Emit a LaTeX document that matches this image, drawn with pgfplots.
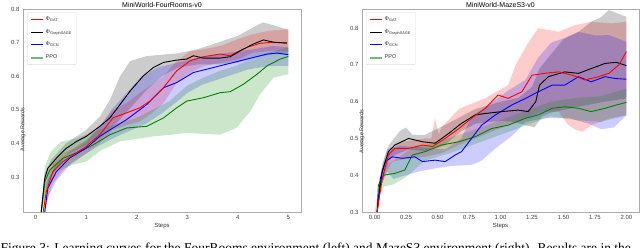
\documentclass[border=0pt]{standalone}
\usepackage{pgfplots}
\pgfplotsset{compat=1.18}
\usepackage{fontspec}
\setmainfont{Liberation Sans}
\newfontfamily\capfont{Liberation Serif}
\definecolor{mred}{RGB}{255,0,0}
\definecolor{mblue}{RGB}{0,0,255}
\definecolor{mgreen}{RGB}{0,128,0}
\pgfplotsset{
  band/.style={draw=none, fill=#1, fill opacity=0.2, forget plot},
  line/.style={color=#1, line width=0.9pt},
  every axis title/.style={at={(0.5,1)}, anchor=base, inner sep=0pt, yshift=2pt, font=\fontsize{7}{8}\selectfont},
  myax/.style={
    scale only axis,
    axis line style={gray!65, line width=0.6pt},
    major tick length=0pt,
    tick label style={font=\fontsize{6}{7}\selectfont, text=black!75},
    every axis y label/.style={at={(axis description cs:0,0.5)}, rotate=90, anchor=center, font=\fontsize{5.5}{6}\selectfont, text=black!80},
    every axis x label/.style={at={(axis description cs:0.5,0)}, anchor=north, yshift=-8pt, font=\fontsize{6}{7}\selectfont, text=black!80},
    legend style={font=\fontsize{5.5}{6.5}\selectfont, draw=gray!30, rounded corners=1pt, fill=white,
      at={(0,1)}, anchor=north west, xshift=4pt, yshift=-3pt, row sep=3.4pt, inner sep=2.5pt, text=black!80},
    legend cell align=left,
    legend image code/.code={\draw[##1] (0pt,0pt) -- (12pt,0pt);},
  }
}
\begin{document}
\begin{tikzpicture}[x=1pt,y=1pt]
\useasboundingbox (0,0) rectangle (640,247);
\clip (0,0) rectangle (640,247);
% ---------------- left ----------------
\begin{axis}[myax, at={(23pt,35pt)}, anchor=south west, width=278pt, height=203pt,
  xmin=-0.25, xmax=5.25, ymin=0.196, ymax=0.8,
  xtick={0,1,2,3,4,5}, xticklabels={0,1,2,3,4,5},
  ytick={0.3,0.4,0.5,0.6,0.7,0.8}, yticklabels={0.3,0.4,0.5,0.6,0.7,0.8},
  title={MiniWorld-FourRooms-v0}, xlabel={Steps}, ylabel={Average Rewards},
  every axis y label/.append style={xshift=-19pt}]
\addlegendimage{mred, line width=0.9pt}
\addlegendentry{Φ\textsubscript{GAT}}
\addlegendimage{black, line width=0.9pt}
\addlegendentry{Φ\textsubscript{GraphSAGE}}
\addlegendimage{mblue, line width=0.9pt}
\addlegendentry{Φ\textsubscript{GCN}}
\addlegendimage{mgreen!55!white, line width=2pt}
\addlegendentry{PPO}
% bands
\addplot[band=black] coordinates {(0.11,0.2)(0.18,0.31)(0.3,0.35)(0.6,0.40)(1.0,0.44)(1.27,0.48)(1.47,0.53)(1.67,0.60)(1.87,0.645)(2.2,0.66)(2.8,0.668)(3.2,0.68)(3.6,0.70)(4.0,0.72)(4.3,0.745)(4.5,0.76)(4.7,0.752)(5.0,0.738)
 (5.0,0.665)(4.7,0.665)(4.3,0.655)(4.0,0.64)(3.6,0.635)(3.2,0.635)(2.8,0.625)(2.5,0.60)(2.2,0.56)(1.9,0.51)(1.6,0.46)(1.3,0.42)(1.0,0.395)(0.6,0.365)(0.3,0.30)(0.18,0.25)(0.12,0.196)};
\addplot[band=mred] coordinates {(0.15,0.21)(0.21,0.28)(0.34,0.34)(0.54,0.37)(0.74,0.385)(1.0,0.41)(1.27,0.45)(1.53,0.50)(1.8,0.52)(2.06,0.55)(2.3,0.575)(2.53,0.60)(2.79,0.645)(3.06,0.675)(3.32,0.68)(3.65,0.69)(4.0,0.71)(4.3,0.725)(4.6,0.735)(5.0,0.74)
 (5.0,0.675)(4.6,0.675)(4.3,0.67)(4.0,0.65)(3.65,0.64)(3.32,0.63)(3.06,0.61)(2.79,0.58)(2.53,0.52)(2.3,0.49)(2.06,0.465)(1.8,0.455)(1.53,0.44)(1.27,0.40)(1.0,0.37)(0.74,0.345)(0.54,0.32)(0.34,0.28)(0.21,0.22)(0.17,0.196)};
\addplot[band=mblue] coordinates {(0.18,0.2)(0.24,0.29)(0.41,0.34)(0.67,0.375)(1.0,0.405)(1.27,0.45)(1.5,0.50)(1.8,0.55)(2.1,0.60)(2.4,0.625)(2.8,0.64)(3.2,0.655)(3.8,0.67)(4.3,0.68)(4.7,0.69)(5.0,0.686)
 (5.0,0.631)(4.6,0.63)(4.2,0.62)(3.8,0.60)(3.3,0.575)(3.0,0.55)(2.8,0.525)(2.5,0.49)(2.2,0.46)(1.9,0.44)(1.6,0.42)(1.27,0.395)(1.0,0.37)(0.67,0.335)(0.41,0.29)(0.24,0.24)(0.2,0.196)};
\addplot[band=mgreen] coordinates {(0.12,0.2)(0.18,0.33)(0.3,0.375)(0.5,0.405)(0.8,0.415)(1.34,0.446)(2.0,0.476)(2.65,0.526)(2.99,0.571)(3.32,0.596)(3.65,0.616)(3.97,0.631)(4.31,0.656)(5.0,0.686)
 (5.0,0.606)(4.71,0.596)(4.44,0.546)(4.25,0.496)(3.97,0.446)(3.65,0.426)(3.0,0.431)(2.33,0.421)(1.67,0.406)(1.3,0.38)(1.0,0.346)(0.7,0.335)(0.41,0.316)(0.25,0.27)(0.15,0.22)(0.12,0.196)};
% lines
\addplot[line=mgreen, forget plot] coordinates {(0.11,0.196)(0.18,0.286)(0.28,0.321)(0.54,0.356)(0.87,0.376)(1.14,0.396)(1.47,0.426)(1.8,0.446)(2.2,0.451)(2.53,0.476)(2.79,0.506)(2.99,0.526)(3.32,0.536)(3.65,0.551)(3.85,0.554)(4.11,0.576)(4.38,0.606)(4.58,0.631)(4.84,0.651)(5.0,0.659)};
\addplot[line=mblue, forget plot] coordinates {(0.18,0.196)(0.24,0.266)(0.41,0.316)(0.67,0.356)(1.0,0.386)(1.27,0.421)(1.53,0.446)(1.8,0.471)(2.2,0.516)(2.53,0.566)(2.79,0.581)(3.12,0.611)(3.39,0.621)(3.78,0.636)(4.18,0.651)(4.58,0.666)(4.78,0.669)(5.0,0.664)};
\addplot[line=mred, forget plot] coordinates {(0.15,0.196)(0.21,0.256)(0.34,0.316)(0.54,0.346)(0.74,0.366)(1.0,0.391)(1.27,0.426)(1.53,0.476)(1.8,0.491)(2.06,0.506)(2.26,0.526)(2.53,0.566)(2.79,0.616)(3.06,0.646)(3.32,0.658)(3.65,0.666)(3.85,0.661)(4.18,0.686)(4.44,0.698)(4.71,0.701)(4.97,0.698)};
\addplot[line=black, forget plot] coordinates {(0.11,0.196)(0.18,0.296)(0.24,0.326)(0.41,0.356)(0.61,0.386)(0.81,0.406)(1.0,0.421)(1.27,0.451)(1.47,0.476)(1.67,0.516)(1.87,0.556)(2.13,0.601)(2.33,0.626)(2.53,0.641)(2.79,0.648)(2.99,0.651)(3.12,0.661)(3.32,0.654)(3.65,0.654)(3.85,0.658)(4.05,0.676)(4.31,0.696)(4.51,0.708)(4.71,0.701)(4.97,0.699)};
\node[font=\fontsize{5.5}{6}\selectfont, text=black!75] at (rel axis cs:1,0) [xshift=-6pt, yshift=-14pt] {1e6};
\end{axis}
% ---------------- right ----------------
\begin{axis}[myax, at={(362pt,35pt)}, anchor=south west, width=277pt, height=203pt,
  xmin=-0.1, xmax=2.1, ymin=0.3, ymax=0.852,
  xtick={0,0.25,0.5,0.75,1,1.25,1.5,1.75,2}, xticklabels={0.00,0.25,0.50,0.75,1.00,1.25,1.50,1.75,2.00},
  ytick={0.3,0.4,0.5,0.6,0.7,0.8}, yticklabels={0.3,0.4,0.5,0.6,0.7,0.8},
  title={MiniWorld-MazeS3-v0}, xlabel={Steps}, ylabel={Average Rewards},
  every axis y label/.append style={xshift=-21pt}]
\addlegendimage{mred, line width=0.9pt}
\addlegendentry{Φ\textsubscript{GAT}}
\addlegendimage{black, line width=0.9pt}
\addlegendentry{Φ\textsubscript{GraphSAGE}}
\addlegendimage{mblue, line width=0.9pt}
\addlegendentry{Φ\textsubscript{GCN}}
\addlegendimage{mgreen!55!white, line width=2pt}
\addlegendentry{PPO}
\addplot[band=mred] coordinates {(0.0,0.3)(0.05,0.40)(0.11,0.47)(0.2,0.49)(0.4,0.50)(0.45,0.50)(0.48,0.555)(0.51,0.51)(0.53,0.53)(0.67,0.58)(0.88,0.61)(1.06,0.645)(1.12,0.70)(1.22,0.76)(1.3,0.80)(1.46,0.79)(1.59,0.808)(1.72,0.817)(1.88,0.813)(2.0,0.817)
 (2.0,0.563)(1.86,0.554)(1.72,0.536)(1.65,0.518)(1.59,0.525)(1.54,0.536)(1.46,0.573)(1.33,0.573)(1.2,0.554)(1.06,0.536)(0.93,0.518)(0.8,0.50)(0.67,0.482)(0.53,0.46)(0.4,0.45)(0.27,0.445)(0.14,0.437)(0.08,0.40)(0.04,0.35)(0.02,0.3)};
\addplot[band=black] coordinates {(0.02,0.3)(0.06,0.43)(0.11,0.48)(0.2,0.52)(0.25,0.53)(0.3,0.51)(0.4,0.51)(0.55,0.535)(0.69,0.56)(0.8,0.58)(1.0,0.60)(1.14,0.61)(1.25,0.64)(1.31,0.69)(1.38,0.72)(1.5,0.77)(1.62,0.79)(1.72,0.817)(1.8,0.83)(1.86,0.849)(1.93,0.84)(2.0,0.831)
 (2.0,0.609)(1.83,0.60)(1.6,0.585)(1.4,0.57)(1.33,0.56)(1.27,0.53)(1.2,0.536)(1.1,0.545)(1.0,0.548)(0.8,0.54)(0.69,0.52)(0.55,0.48)(0.4,0.465)(0.27,0.47)(0.16,0.455)(0.11,0.44)(0.06,0.38)(0.02,0.3)};
\addplot[band=mblue] coordinates {(0.02,0.3)(0.05,0.41)(0.1,0.47)(0.2,0.48)(0.4,0.475)(0.56,0.47)(0.69,0.50)(0.77,0.56)(0.9,0.59)(1.06,0.63)(1.2,0.66)(1.3,0.72)(1.4,0.76)(1.5,0.772)(1.62,0.79)(1.75,0.78)(1.86,0.781)(2.0,0.763)
 (2.0,0.563)(1.9,0.53)(1.8,0.525)(1.7,0.54)(1.55,0.555)(1.35,0.555)(1.2,0.545)(1.1,0.51)(0.96,0.473)(0.85,0.44)(0.77,0.428)(0.6,0.425)(0.5,0.42)(0.35,0.41)(0.2,0.395)(0.15,0.39)(0.1,0.41)(0.05,0.37)(0.02,0.3)};
\addplot[band=mgreen] coordinates {(0.02,0.3)(0.05,0.39)(0.1,0.43)(0.2,0.45)(0.3,0.475)(0.5,0.49)(0.8,0.525)(1.0,0.55)(1.2,0.575)(1.4,0.60)(1.6,0.61)(1.8,0.615)(2.0,0.636)
 (2.0,0.563)(1.8,0.545)(1.6,0.55)(1.4,0.56)(1.2,0.535)(1.0,0.51)(0.8,0.485)(0.6,0.46)(0.4,0.44)(0.25,0.395)(0.15,0.375)(0.08,0.37)(0.04,0.35)(0.02,0.3)};
\addplot[line=mgreen, forget plot] coordinates {(0.02,0.30)(0.03,0.373)(0.07,0.40)(0.16,0.405)(0.24,0.414)(0.30,0.455)(0.40,0.464)(0.53,0.482)(0.67,0.491)(0.80,0.505)(0.93,0.527)(1.06,0.536)(1.20,0.555)(1.30,0.564)(1.41,0.582)(1.51,0.586)(1.62,0.582)(1.72,0.573)(1.83,0.582)(1.92,0.591)(2.0,0.598)};
\addplot[line=mblue, forget plot] coordinates {(0.02,0.30)(0.045,0.39)(0.085,0.437)(0.14,0.45)(0.22,0.446)(0.32,0.45)(0.38,0.437)(0.48,0.441)(0.56,0.437)(0.64,0.455)(0.69,0.464)(0.77,0.50)(0.85,0.536)(0.96,0.564)(1.09,0.591)(1.2,0.609)(1.3,0.627)(1.41,0.645)(1.51,0.645)(1.62,0.668)(1.72,0.654)(1.83,0.668)(1.91,0.663)(2.0,0.661)};
\addplot[line=black, forget plot] coordinates {(0.02,0.30)(0.06,0.41)(0.11,0.464)(0.16,0.482)(0.27,0.50)(0.38,0.491)(0.48,0.487)(0.59,0.514)(0.69,0.541)(0.80,0.564)(0.88,0.568)(1.01,0.573)(1.14,0.577)(1.22,0.573)(1.28,0.60)(1.31,0.645)(1.38,0.668)(1.51,0.681)(1.62,0.677)(1.72,0.69)(1.83,0.704)(1.92,0.707)(2.0,0.698)};
\addplot[line=mred, forget plot] coordinates {(0.02,0.30)(0.06,0.39)(0.11,0.455)(0.16,0.473)(0.27,0.473)(0.38,0.482)(0.46,0.478)(0.56,0.50)(0.67,0.527)(0.77,0.555)(0.88,0.582)(0.98,0.618)(1.06,0.609)(1.17,0.627)(1.25,0.672)(1.35,0.677)(1.46,0.681)(1.57,0.672)(1.67,0.659)(1.78,0.668)(1.86,0.677)(1.94,0.70)(2.0,0.736)};
\node[font=\fontsize{5.5}{6}\selectfont, text=black!75] at (rel axis cs:1,0) [xshift=-7pt, yshift=-14pt] {1e7};
\end{axis}
% caption (cut off at bottom, as in the reference)
\node[anchor=base west, inner sep=0pt] at (0.5,-5) {\capfont\fontsize{13.5}{15}\selectfont Figure 3: Learning curves for the FourRooms environment (left) and MazeS3 environment (right). Results are in the};
\end{tikzpicture}
\end{document}
